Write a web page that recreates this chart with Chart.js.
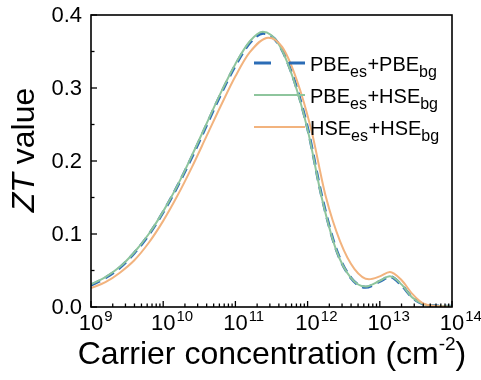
<!DOCTYPE html>
<html>
<head>
<meta charset="utf-8">
<script src="https://cdn.jsdelivr.net/npm/chart.js@4"></script>
<style>
html,body{margin:0;padding:0;background:#fff;}
#wrap{width:481px;height:380px;position:relative;}
</style>
</head>
<body>
<div id="wrap"><canvas id="c" width="481" height="380"></canvas></div>
<script>
// log10 of carrier concentration (cm^-2) and ZT values
const expPBEPBE = [9.0, 9.2, 9.4, 9.6, 9.8, 10.0, 10.2, 10.4, 10.6, 10.8, 11.0, 11.2, 11.386, 11.6, 11.8, 12.0, 12.2, 12.4, 12.6, 12.8, 13.0, 13.14, 13.3, 13.45, 13.6, 13.8, 14.0];
const ztPBEPBE  = [0.030, 0.040, 0.054, 0.074, 0.099, 0.130, 0.166, 0.206, 0.249, 0.292, 0.331, 0.362, 0.375, 0.360, 0.315, 0.245, 0.150, 0.078, 0.040, 0.027, 0.035, 0.0415, 0.030, 0.013, 0.004, 0.0015, 0.001];

const expPBEHSE = [9.0, 9.2, 9.4, 9.6, 9.8, 10.0, 10.2, 10.4, 10.6, 10.8, 11.0, 11.2, 11.38, 11.6, 11.8, 12.0, 12.2, 12.4, 12.6, 12.8, 13.0, 13.14, 13.3, 13.45, 13.6, 13.8, 14.0];
const ztPBEHSE  = [0.031, 0.041, 0.055, 0.075, 0.100, 0.131, 0.167, 0.208, 0.251, 0.294, 0.333, 0.364, 0.377, 0.360, 0.313, 0.243, 0.148, 0.077, 0.040, 0.028, 0.036, 0.042, 0.031, 0.013, 0.004, 0.0015, 0.001];

const expHSEHSE = [9.0, 9.2, 9.4, 9.6, 9.8, 10.0, 10.2, 10.4, 10.6, 10.8, 11.0, 11.2, 11.456, 11.65, 11.85, 12.05, 12.25, 12.45, 12.65, 12.85, 13.0, 13.14, 13.3, 13.45, 13.6, 13.8, 14.0];
const ztHSEHSE  = [0.026, 0.034, 0.047, 0.064, 0.088, 0.118, 0.153, 0.192, 0.234, 0.276, 0.316, 0.349, 0.369, 0.356, 0.311, 0.243, 0.152, 0.090, 0.052, 0.038, 0.042, 0.048, 0.037, 0.018, 0.005, 0.001, 0.000];

const xTickExps = [9, 10, 11, 12, 13, 14];
const yTickVals = [0.0, 0.1, 0.2, 0.3, 0.4];
const yTickLabels = ["0.0", "0.1", "0.2", "0.3", "0.4"];
const seriesNames = [["PBE","es","+PBE","bg"],["PBE","es","+HSE","bg"],["HSE","es","+HSE","bg"]];
const seriesColors = ["#2b6cb6", "#8ec59d", "#f2b37e"];

function pts(xs, ys){ return xs.map((x,i)=>({x:x, y:ys[i]})); }

const FONT = '"Liberation Sans", Arial, Helvetica, sans-serif';

const decor = {
  id: 'decor',
  afterDatasetsDraw(chart){
    const ctx = chart.ctx;
    const xs = chart.scales.x, ys = chart.scales.y;
    const a = chart.chartArea;
    ctx.save();
    // frame
    ctx.strokeStyle = '#000';
    ctx.lineWidth = 1.6;
    ctx.strokeRect(a.left, a.top, a.right - a.left, a.bottom - a.top);
    // y ticks
    ctx.lineWidth = 1.3;
    for (let v = 0; v <= 0.4001; v += 0.05) {
      const y = ys.getPixelForValue(v);
      const major = Math.abs(v*10 - Math.round(v*10)) < 1e-6;
      const len = major ? 6 : 3.5;
      ctx.beginPath(); ctx.moveTo(a.left, y); ctx.lineTo(a.left + len, y); ctx.stroke();
    }
    // x ticks (log decades + minor)
    for (let d = 9; d <= 14; d++) {
      const x = xs.getPixelForValue(d);
      ctx.beginPath(); ctx.moveTo(x, a.bottom); ctx.lineTo(x, a.bottom - 6); ctx.stroke();
      if (d < 14) {
        for (let k = 2; k <= 9; k++) {
          const xm = xs.getPixelForValue(d + Math.log10(k));
          ctx.beginPath(); ctx.moveTo(xm, a.bottom); ctx.lineTo(xm, a.bottom - 3.5); ctx.stroke();
        }
      }
    }
    // y tick labels
    ctx.fillStyle = '#000';
    ctx.font = '22px ' + FONT;
    ctx.textAlign = 'right';
    ctx.textBaseline = 'middle';
    yTickVals.forEach((v,i)=>{
      ctx.fillText(yTickLabels[i], a.left - 9, ys.getPixelForValue(v) + 1);
    });
    // x tick labels with superscript
    ctx.textBaseline = 'alphabetic';
    xTickExps.forEach(e=>{
      const x = xs.getPixelForValue(e);
      ctx.font = '22px ' + FONT;
      ctx.textAlign = 'center';
      ctx.fillText('10', x, a.bottom + 23);
      const w = ctx.measureText('10').width;
      ctx.font = '15px ' + FONT;
      ctx.textAlign = 'left';
      ctx.fillText(String(e), x + w/2 + 1, a.bottom + 14);
    });
    // x title
    const t1 = 'Carrier concentration (cm';
    const sup = '-2';
    const t2 = ')';
    ctx.font = '32px ' + FONT; const w1 = ctx.measureText(t1).width;
    ctx.font = '19px ' + FONT; const ws = ctx.measureText(sup).width;
    ctx.font = '32px ' + FONT; const w2 = ctx.measureText(t2).width;
    const total = w1 + ws + w2;
    let sx = 272 - total/2;
    ctx.textAlign = 'left';
    ctx.fillText(t1, sx, 364);
    ctx.font = '19px ' + FONT; ctx.fillText(sup, sx + w1, 350);
    ctx.font = '32px ' + FONT; ctx.fillText(t2, sx + w1 + ws, 364);
    // y title
    ctx.save();
    ctx.translate(34, 150);
    ctx.rotate(-Math.PI/2);
    ctx.font = 'italic 32px ' + FONT;
    const wz = ctx.measureText('ZT').width;
    ctx.font = '32px ' + FONT;
    const wv = ctx.measureText(' value').width;
    let yx = -(wz + wv)/2;
    ctx.font = 'italic 32px ' + FONT; ctx.fillText('ZT', yx, 0);
    ctx.font = '32px ' + FONT; ctx.fillText(' value', yx + wz, 0);
    ctx.restore();
    // legend
    const rows = [63, 95, 127];
    rows.forEach((ry, i)=>{
      ctx.save();
      ctx.strokeStyle = seriesColors[i];
      if (i === 0) { ctx.lineWidth = 3.2; ctx.setLineDash([17, 18]); }
      else { ctx.lineWidth = 2; }
      ctx.beginPath(); ctx.moveTo(254, ry); ctx.lineTo(305, ry); ctx.stroke();
      ctx.restore();
      let tx = 310;
      const parts = seriesNames[i];
      parts.forEach((p, j)=>{
        const isSub = (j % 2 === 1);
        ctx.font = (isSub ? '16px ' : '20px ') + FONT;
        ctx.fillText(p, tx, ry + (isSub ? 14 : 7.5));
        tx += ctx.measureText(p).width + (isSub ? 0.5 : 0);
      });
    });
    ctx.restore();
  }
};

new Chart(document.getElementById('c'), {
  type: 'scatter',
  data: {
    datasets: [
      { label: 'PBEes+PBEbg', data: pts(expPBEPBE, ztPBEPBE), showLine: true, borderColor: seriesColors[0], borderWidth: 3, borderDash: [10, 6], pointRadius: 0, cubicInterpolationMode: 'monotone', order: 3 },
      { label: 'PBEes+HSEbg', data: pts(expPBEHSE, ztPBEHSE), showLine: true, borderColor: seriesColors[1], borderWidth: 2, pointRadius: 0, cubicInterpolationMode: 'monotone', order: 2 },
      { label: 'HSEes+HSEbg', data: pts(expHSEHSE, ztHSEHSE), showLine: true, borderColor: seriesColors[2], borderWidth: 2, pointRadius: 0, cubicInterpolationMode: 'monotone', order: 1 }
    ]
  },
  options: {
    responsive: false,
    animation: false,
    events: [],
    layout: { padding: { left: 91, right: 29, top: 15, bottom: 73 } },
    plugins: { legend: { display: false }, tooltip: { enabled: false } },
    scales: {
      x: { type: 'linear', min: 9, max: 14, display: false },
      y: { type: 'linear', min: 0, max: 0.4, display: false }
    }
  },
  plugins: [decor]
});
</script>
</body>
</html>
